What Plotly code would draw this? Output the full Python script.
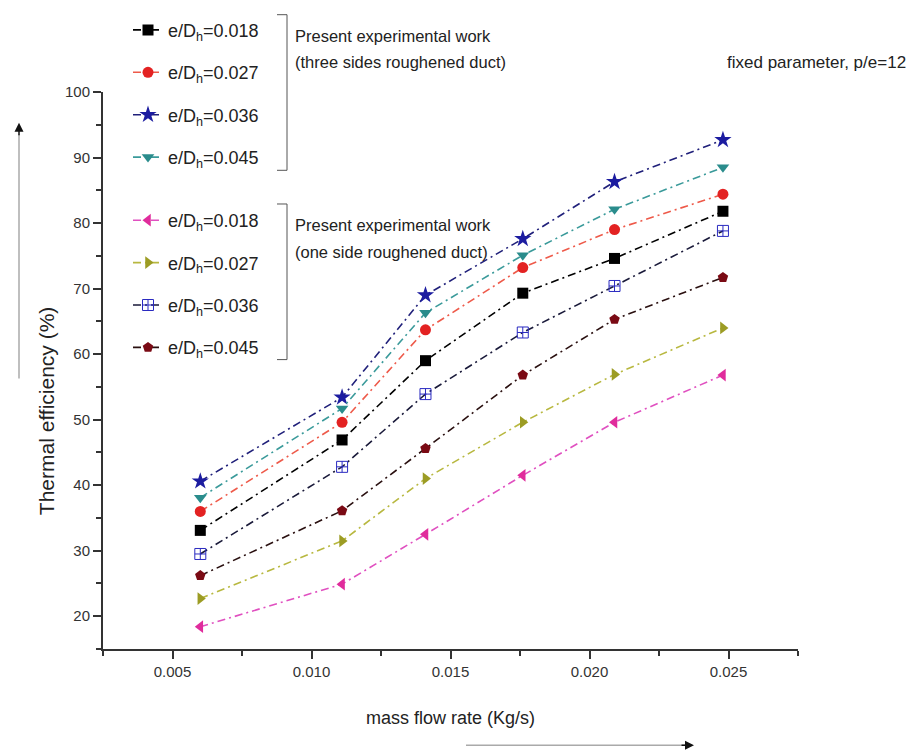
import plotly.graph_objects as go

# ---- data ----
mass_flow = [0.006, 0.0111, 0.0141, 0.0176, 0.0209, 0.0248]

three_018 = [33.1, 46.9, 59.0, 69.3, 74.6, 81.8]
three_027 = [36.0, 49.6, 63.7, 73.2, 79.0, 84.4]
three_036 = [40.6, 53.4, 69.0, 77.6, 86.3, 92.7]
three_045 = [38.1, 51.7, 66.3, 75.1, 82.1, 88.5]

one_018 = [18.4, 24.9, 32.5, 41.5, 49.6, 56.8]
one_027 = [22.7, 31.5, 41.0, 49.6, 56.9, 64.0]
one_036 = [29.5, 42.8, 53.9, 63.3, 70.4, 78.8]
one_045 = [26.2, 36.1, 45.6, 56.8, 65.3, 71.7]

labels = ["e/D<sub>h</sub>=0.018", "e/D<sub>h</sub>=0.027",
          "e/D<sub>h</sub>=0.036", "e/D<sub>h</sub>=0.045"]

x_ticks = [0.005, 0.010, 0.015, 0.020, 0.025]
x_ticktext = ["0.005", "0.010", "0.015", "0.020", "0.025"]
y_ticks = [20, 30, 40, 50, 60, 70, 80, 90, 100]

# ---- geometry helpers (plot area in pixels) ----
L, R, T, B = 103, 798, 87, 649
W_, H_ = R - L, B - T
def px(x):
    return (x - L) / W_
def py(y):
    return (B - y) / H_

DASH = "8px,4px,2px,4px"
series = [
    (three_018, labels[0], "square", "#000000", "#000000", "legend"),
    (three_027, labels[1], "circle", "#e32222", "#ee5a4a", "legend"),
    (three_036, labels[2], "star", "#1c1ca0", "#20207a", "legend"),
    (three_045, labels[3], "triangle-down", "#2a8c8c", "#3a9a9a", "legend"),
    (one_018, labels[0], "triangle-left", "#e02c9c", "#e050c0", "legend2"),
    (one_027, labels[1], "triangle-right", "#9c9c24", "#b8b840", "legend2"),
    (one_036, labels[2], "square-cross-open", "#2a2ac0", "#1a1a3a", "legend2"),
    (one_045, labels[3], "pentagon", "#7a0a14", "#2a1010", "legend2"),
]

fig = go.Figure()
for i, (vals, name, sym, mcol, lcol, leg) in enumerate(series):
    fig.add_trace(go.Scatter(
        x=mass_flow, y=vals, name=name, mode="lines+markers",
        line=dict(color=lcol, width=1.6, dash=DASH),
        marker=dict(symbol=sym, size=13 if sym == "star" else 11, color=mcol,
                    line=dict(width=1 if "open" in sym else 0, color=mcol)),
        legend=leg, legendgroup=f"g{i}",
    ))

font = "Liberation Sans, Arial, sans-serif"
leg_common = dict(font=dict(family=font, size=18, color="#222"),
                  bgcolor="rgba(0,0,0,0)", traceorder="grouped",
                  tracegroupgap=16, xanchor="left", yanchor="top",
                  itemwidth=30)

shapes = []
# brackets
for top, bot in [(9, 166), (200, 357)]:
    shapes.append(dict(type="path", xref="paper", yref="paper",
                       path=f"M {px(277)},{py(top)} L {px(287)},{py(top)} L {px(287)},{py(bot)} L {px(277)},{py(bot)}",
                       line=dict(color="#555", width=1)))
# arrow lines
shapes.append(dict(type="line", xref="paper", yref="paper",
                   x0=px(19), y0=py(376), x1=px(19), y1=py(130),
                   line=dict(color="#aaa", width=1.5)))
shapes.append(dict(type="line", xref="paper", yref="paper",
                   x0=px(466), y0=py(746), x1=px(686), y1=py(746),
                   line=dict(color="#aaa", width=1.5)))

ann = [
    dict(x=px(293), y=py(30), text="Present experimental work", xanchor="left", size=16.5),
    dict(x=px(293), y=py(57), text="(three sides roughened duct)", xanchor="left", size=16.5),
    dict(x=px(293), y=py(221), text="Present experimental work", xanchor="left", size=16.5),
    dict(x=px(293), y=py(248), text="(one side roughened duct)", xanchor="left", size=16.5),
    dict(x=px(908), y=py(57), text="fixed parameter, p/e=12", xanchor="right", size=17),
]
annotations = []
for a in ann:
    s = a.pop("size")
    a.update(xref="paper", yref="paper", showarrow=False, yanchor="middle",
             font=dict(family=font, size=s, color="#222"))
    annotations.append(a)
annotations.append(dict(xref="paper", yref="paper", x=px(46), y=py(408),
                        xanchor="center", yanchor="middle",
                        text="Thermal efficiency (%)", textangle=-90, showarrow=False,
                        font=dict(family=font, size=21, color="#222")))
annotations.append(dict(xref="paper", yref="paper", x=px(450), y=py(719),
                        xanchor="center", yanchor="middle",
                        text="mass flow rate (Kg/s)", showarrow=False,
                        font=dict(family=font, size=18, color="#222")))
# arrow heads
annotations.append(dict(xref="paper", yref="paper", axref="pixel", ayref="pixel",
                        x=px(19), y=py(118), ax=0, ay=14, text="", showarrow=True,
                        arrowhead=2, arrowsize=1.2, arrowwidth=1.5, arrowcolor="#111"))
annotations.append(dict(xref="paper", yref="paper", axref="pixel", ayref="pixel",
                        x=px(694), y=py(746), ax=-14, ay=0, text="", showarrow=True,
                        arrowhead=2, arrowsize=1.2, arrowwidth=1.5, arrowcolor="#111"))

axis_common = dict(showgrid=False, zeroline=False, showline=True, linecolor="#333",
                   linewidth=2, ticks="outside", ticklen=8, tickwidth=1.5,
                   tickcolor="#333",
                   tickfont=dict(family=font, size=15, color="#333"))

fig.update_layout(
    width=914, height=756, autosize=False,
    margin=dict(l=L, r=914 - R, t=T, b=756 - B),
    paper_bgcolor="white", plot_bgcolor="white",
    xaxis=dict(range=[0.0025, 0.0275], tickvals=x_ticks, ticktext=x_ticktext,
               minor=dict(dtick=0.0025, tick0=0.0025, ticklen=5, ticks="outside",
                          tickcolor="#333"),
               **axis_common),
    yaxis=dict(range=[15, 100], tickvals=y_ticks,
               minor=dict(dtick=5, tick0=0, ticklen=5, ticks="outside",
                          tickcolor="#333"),
               **axis_common),
    legend=dict(x=px(128), y=py(6), **leg_common),
    legend2=dict(x=px(128), y=py(198), **leg_common),
    shapes=shapes, annotations=annotations,
)

fig.write_html("out.html")
